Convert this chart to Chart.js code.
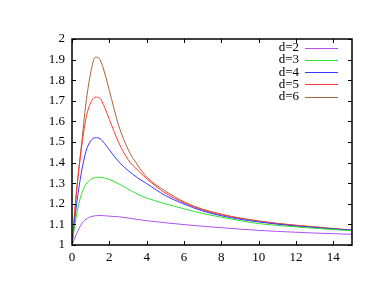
<!DOCTYPE html>
<html>
<head>
<meta charset="utf-8">
<script src="https://cdn.jsdelivr.net/npm/chart.js@4/dist/chart.umd.min.js"></script>
<style>
  html, body { margin: 0; padding: 0; background: #fff; }
  #c { display: block; }
</style>
</head>
<body>
<canvas id="c" width="385" height="298"></canvas>
<script>
// values
var xs = [0, 0.25, 0.5, 0.75, 1, 1.25, 1.5, 1.75, 2, 2.5, 3, 3.5, 4, 5, 6, 7, 8, 9, 10, 11, 12, 13, 14, 15];
var d2 = [1, 1.055, 1.10, 1.125, 1.137, 1.142, 1.143, 1.142, 1.140, 1.137, 1.131, 1.124, 1.118, 1.108, 1.099, 1.091, 1.084, 1.077, 1.071, 1.066, 1.062, 1.058, 1.055, 1.052];
var d3 = [1, 1.15, 1.245, 1.295, 1.318, 1.328, 1.329, 1.325, 1.318, 1.297, 1.272, 1.247, 1.228, 1.200, 1.176, 1.153, 1.135, 1.118, 1.104, 1.095, 1.088, 1.081, 1.075, 1.069];
var d4 = [1, 1.20, 1.35, 1.455, 1.505, 1.521, 1.516, 1.492, 1.462, 1.405, 1.362, 1.327, 1.298, 1.240, 1.199, 1.165, 1.142, 1.125, 1.112, 1.101, 1.092, 1.085, 1.078, 1.072];
var d5 = [1, 1.265, 1.465, 1.615, 1.69, 1.718, 1.712, 1.668, 1.61, 1.498, 1.415, 1.365, 1.322, 1.252, 1.205, 1.170, 1.147, 1.129, 1.115, 1.104, 1.095, 1.087, 1.079, 1.072];
var d6 = [1, 1.27, 1.48, 1.69, 1.835, 1.912, 1.90, 1.835, 1.75, 1.58, 1.465, 1.39, 1.33, 1.262, 1.21, 1.174, 1.150, 1.131, 1.117, 1.105, 1.096, 1.088, 1.080, 1.073];
var labels = ['d=2', 'd=3', 'd=4', 'd=5', 'd=6'];
var colors = ['#b050ee', '#30e030', '#3838ff', '#ff3838', '#a86436'];
var xTicks = [0, 2, 4, 6, 8, 10, 12, 14];
var yTicks = [1, 1.1, 1.2, 1.3, 1.4, 1.5, 1.6, 1.7, 1.8, 1.9, 2];

var series = [d2, d3, d4, d5, d6];
function pts(ys) {
    return xs.map(function(x, i) { return {x: x, y: ys[i]}; });
}

var FONT = '"Liberation Serif", "DejaVu Serif", serif';

// gnuplot-like frame with inward ticks and a key drawn top right
var framePlugin = {
    id: 'frame',
    afterDraw: function(chart) {
        var ctx = chart.ctx;
        var a = chart.chartArea;
        var xs_ = chart.scales.x, ys_ = chart.scales.y;
        ctx.save();
        ctx.strokeStyle = '#000';
        ctx.lineWidth = 1;
        ctx.beginPath();
        xTicks.forEach(function(v) {
            var px = Math.round(xs_.getPixelForValue(v)) + 0.5;
            ctx.moveTo(px, a.bottom); ctx.lineTo(px, a.bottom - 4);
            ctx.moveTo(px, a.top); ctx.lineTo(px, a.top + 4);
        });
        yTicks.forEach(function(v) {
            var py = Math.round(ys_.getPixelForValue(v)) + 0.5;
            ctx.moveTo(a.left, py); ctx.lineTo(a.left + 4, py);
            ctx.moveTo(a.right, py); ctx.lineTo(a.right - 4, py);
        });
        ctx.stroke();
        ctx.lineWidth = 1.5;
        ctx.strokeRect(a.left, a.top, a.right - a.left, a.bottom - a.top);

        // key
        ctx.font = '13px ' + FONT;
        ctx.textAlign = 'right';
        ctx.textBaseline = 'middle';
        chart.data.datasets.forEach(function(ds, i) {
            var y = 47.5 + i * 12.3;
            ctx.fillStyle = '#000';
            ctx.fillText(ds.label, 299, y);
            ctx.strokeStyle = ds.borderColor;
            ctx.lineWidth = 1;
            ctx.beginPath();
            ctx.moveTo(305, Math.round(y) + 0.5);
            ctx.lineTo(338, Math.round(y) + 0.5);
            ctx.stroke();
        });
        ctx.restore();
    }
};

var ctx = document.getElementById('c').getContext('2d');
var chart = new Chart(ctx, {
    type: 'line',
    data: {
        datasets: series.map(function(s, i) {
            return {
                label: labels[i],
                data: pts(s),
                borderColor: colors[i],
                borderWidth: 1,
                pointRadius: 0,
                fill: false,
                cubicInterpolationMode: 'monotone'
            };
        })
    },
    options: {
        responsive: false,
        animation: false,
        layout: { padding: { left: 0, right: 33, top: 39, bottom: 0 } },
        plugins: { legend: { display: false }, tooltip: { enabled: false } },
        scales: {
            x: {
                type: 'linear',
                min: 0,
                max: 15,
                grid: { display: false, drawTicks: false },
                border: { display: false },
                afterBuildTicks: function(axis) {
                    axis.ticks = xTicks.map(function(v) { return {value: v}; });
                },
                afterFit: function(axis) { axis.height = 53; },
                ticks: {
                    padding: 5,
                    maxRotation: 0,
                    color: '#000',
                    font: { family: FONT, size: 13 },
                    callback: function(v) { return String(v); }
                }
            },
            y: {
                type: 'linear',
                min: 1,
                max: 2,
                grid: { display: false, drawTicks: false },
                border: { display: false },
                afterBuildTicks: function(axis) {
                    axis.ticks = yTicks.map(function(v) { return {value: v}; });
                },
                afterFit: function(axis) { axis.width = 72; },
                ticks: {
                    padding: 7,
                    color: '#000',
                    font: { family: FONT, size: 13 },
                    callback: function(v) { return String(Math.round(v * 10) / 10); }
                }
            }
        }
    },
    plugins: [framePlugin]
});
</script>
</body>
</html>
